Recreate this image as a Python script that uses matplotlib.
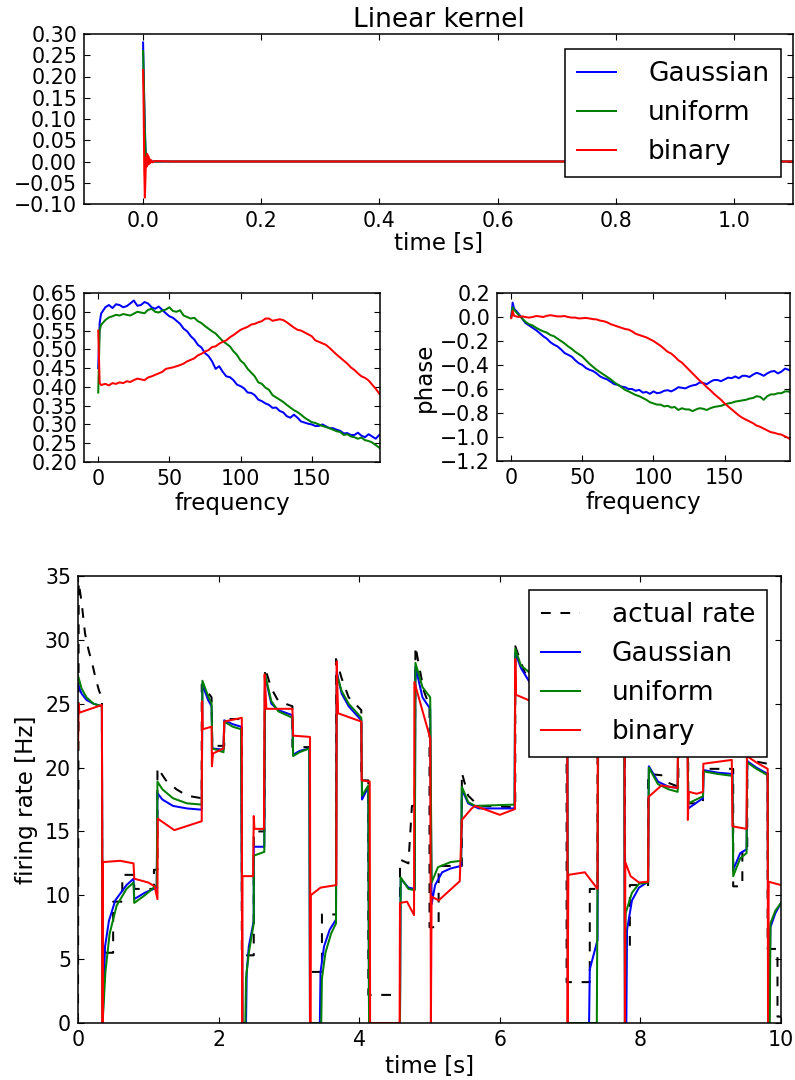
import matplotlib
matplotlib.use('Agg')
import matplotlib.pyplot as plt
import numpy as np

# ---- kernel (top panel) ----
kernel_t = [0.0, 0.001, 0.002, 0.003, 0.004, 0.005, 0.006, 0.007, 0.008, 0.009,
            0.010, 0.011, 0.012, 0.014, 0.016, 0.020, 0.050, 1.10]
kernel_gauss = [0.28, 0.21, 0.14, 0.08, 0.035, 0.005, -0.005, 0.004, 0.0, 0.002,
                -0.002, 0.001, 0.0, 0.0, 0.0, 0.0, 0.0, 0.0]
kernel_unif = [0.26, 0.20, 0.13, 0.07, 0.03, 0.01, -0.01, 0.006, -0.004, 0.003,
               -0.002, 0.002, 0.0, 0.0, 0.0, 0.0, 0.0, 0.0]
kernel_bin = [0.215, 0.12, -0.02, -0.085, -0.04, 0.01, -0.012, 0.018, -0.008, 0.012,
              -0.006, 0.006, -0.004, 0.003, -0.002, 0.001, 0.0, 0.0]

# ---- transfer function (middle panels) ----
freq = [0, 1, 2] + [5 + 2.5 * i for i in range(78)]
amp_gauss = [0.45, 0.57, 0.595,
             .612, .618, .610, .620, .618, .612, .615, .622, .630, .616, .618, .626, .622,
             .612, .608, .614, .605, .596, .588, .584, .576, .568, .555, .548, .535, .526,
             .512, .505, .490, .482, .468, .448, .455, .440, .428, .426, .418, .406, .402,
             .396, .385, .384, .378, .366, .362, .356, .352, .344, .345, .336, .332, .322,
             .318, .326, .318, .308, .305, .302, .300, .296, .296, .300, .295, .290, .290,
             .286, .283, .276, .277, .272, .272, .278, .270, .266, .274, .268, .262, .272]
amp_unif = [0.385, 0.55, 0.565,
            .578, .585, .588, .592, .590, .594, .592, .590, .595, .600, .598, .596, .605,
            .608, .600, .598, .603, .606, .612, .602, .600, .604, .590, .586, .582, .584,
            .575, .570, .562, .555, .548, .542, .532, .522, .515, .508, .495, .485, .470,
            .462, .448, .438, .428, .412, .408, .398, .392, .378, .372, .366, .360, .352,
            .345, .338, .333, .326, .318, .312, .306, .304, .300, .296, .293, .290, .286,
            .282, .280, .272, .274, .268, .266, .262, .265, .258, .256, .252, .245, .238]
amp_bin = [0.55, 0.41, 0.405,
           .408, .404, .410, .408, .412, .410, .415, .413, .418, .422, .420, .418, .425,
           .428, .432, .436, .440, .448, .450, .452, .455, .458, .462, .468, .472, .476,
           .484, .488, .494, .498, .506, .508, .515, .520, .524, .532, .538, .545, .552,
           .556, .560, .566, .568, .572, .575, .582, .582, .576, .578, .580, .578, .572,
           .565, .558, .552, .550, .545, .540, .535, .524, .520, .516, .512, .504, .495,
           .486, .478, .470, .462, .452, .445, .436, .428, .424, .417, .406, .395, .382]
phase_gauss = [0.0, 0.12, 0.07,
               .03, -.01, -.05, -.07, -.09, -.11, -.134, -.16, -.18, -.21, -.23, -.245,
               -.27, -.30, -.315, -.33, -.36, -.385, -.40, -.425, -.44, -.45, -.47, -.495,
               -.51, -.52, -.54, -.56, -.565, -.58, -.585, -.60, -.60, -.615, -.607, -.63,
               -.625, -.64, -.62, -.635, -.63, -.615, -.61, -.62, -.605, -.585, -.59,
               -.595, -.58, -.57, -.565, -.545, -.55, -.56, -.54, -.525, -.525, -.535,
               -.52, -.505, -.51, -.495, -.51, -.49, -.49, -.50, -.48, -.465, -.475, -.49,
               -.47, -.455, -.45, -.47, -.455, -.43, -.44, -.455]
phase_unif = [0.0, 0.08, 0.06,
              .02, -.01, -.04, -.06, -.07, -.09, -.106, -.12, -.13, -.15, -.16, -.18,
              -.20, -.22, -.245, -.265, -.29, -.31, -.33, -.36, -.39, -.415, -.44, -.46,
              -.48, -.50, -.52, -.545, -.565, -.585, -.607, -.62, -.635, -.65, -.66,
              -.675, -.69, -.71, -.72, -.73, -.73, -.745, -.74, -.755, -.75, -.775,
              -.76, -.77, -.77, -.785, -.77, -.76, -.765, -.775, -.76, -.75, -.745,
              -.74, -.73, -.72, -.715, -.705, -.70, -.695, -.69, -.68, -.675, -.66,
              -.665, -.69, -.66, -.645, -.645, -.635, -.635, -.62, -.62, -.64]
phase_bin = [-0.01, 0.05, 0.01,
             0.0, .005, 0.0, -.005, 0.0, .008, .005, 0.0, .01, .015, .01, .005, .005,
             .008, 0.0, -.005, -.005, -.012, -.01, -.008, -.012, -.018, -.02, -.03,
             -.035, -.045, -.06, -.07, -.08, -.09, -.10, -.105, -.12, -.14, -.15, -.16,
             -.17, -.185, -.20, -.22, -.24, -.265, -.29, -.305, -.33, -.36, -.38, -.41,
             -.44, -.47, -.50, -.53, -.555, -.585, -.61, -.64, -.665, -.69, -.72, -.745,
             -.77, -.795, -.82, -.84, -.855, -.87, -.885, -.905, -.915, -.93, -.945,
             -.96, -.965, -.975, -.98, -.995, -1.01, -1.03]

# ---- firing rate (bottom panel) ----
actual_t = [0.0, 0.01, 0.05, 0.10, 0.15, 0.20, 0.25, 0.30, 0.34, 0.345, 0.50, 0.50,
            0.63, 0.63, 0.80, 0.80, 1.08, 1.08, 1.13, 1.13, 1.25, 1.40, 1.55, 1.76,
            1.76, 1.90, 1.91, 2.08, 2.08, 2.33, 2.33, 2.50, 2.50, 2.65, 2.66, 2.75,
            2.85, 3.05, 3.05, 3.30, 3.30, 3.47, 3.47, 3.67, 3.67, 3.75, 3.85, 4.03,
            4.03, 4.13, 4.13, 4.58, 4.58, 4.70, 4.75, 4.79, 4.80, 4.85, 4.92, 5.00,
            5.00, 5.13, 5.13, 5.46, 5.46, 5.55, 5.70, 6.22, 6.22, 6.35, 6.95, 6.95,
            7.28, 7.28, 7.39, 7.39, 7.78, 7.78, 7.85, 7.85, 8.11, 8.11, 8.30, 8.40,
            8.54, 8.54, 8.68, 8.68, 8.89, 8.89, 9.32, 9.32, 9.45, 9.45, 9.52, 9.52,
            9.81, 9.81, 9.95, 9.95, 10.0]
actual_rate = [0.0, 34.5, 33.0, 30.5, 29.2, 28.2, 27.0, 26.0, 25.5, 5.5, 5.5, 9.5,
               9.5, 11.6, 11.6, 10.5, 10.5, 12.0, 12.0, 20.0, 19.0, 18.3, 17.8, 17.6,
               26.5, 25.5, 21.7, 21.7, 23.8, 23.8, 5.3, 5.3, 15.0, 15.0, 27.8, 26.2,
               25.2, 24.8, 21.6, 21.6, 4.0, 4.0, 8.5, 8.5, 28.5, 27.0, 25.5, 24.5,
               19.0, 19.0, 2.2, 2.2, 12.8, 12.5, 17.0, 17.0, 29.5, 28.0, 26.0, 24.8,
               7.5, 7.5, 12.3, 12.3, 19.6, 17.8, 17.0, 16.9, 29.5, 27.5, 24.0, 3.2,
               3.2, 10.5, 10.5, 24.0, 24.0, 6.0, 6.0, 10.8, 10.8, 19.5, 19.4, 18.8,
               18.5, 24.0, 24.0, 17.2, 17.2, 19.9, 19.9, 10.7, 10.7, 13.6, 13.6, 20.6,
               20.3, 5.8, 5.8, 0.5, 0.5]

gauss_t = [0.0, 0.05, 0.12, 0.22, 0.34, 0.35, 0.385, 0.44, 0.53, 0.69, 0.79, 0.80,
           0.95, 1.12, 1.13, 1.20, 1.35, 1.55, 1.76, 1.77, 1.85, 1.90, 1.91, 2.07,
           2.08, 2.20, 2.32, 2.34, 2.39, 2.40, 2.43, 2.50, 2.50, 2.65, 2.66, 2.75,
           2.85, 3.05, 3.06, 3.15, 3.29, 3.30, 3.44, 3.45, 3.50, 3.58, 3.67, 3.68,
           3.75, 3.85, 4.03, 4.04, 4.13, 4.14, 4.58, 4.59, 4.70, 4.79, 4.80, 4.90,
           5.01, 5.03, 5.08, 5.18, 5.30, 5.45, 5.46, 5.55, 5.70, 6.21, 6.22, 6.30,
           6.50, 6.96, 6.97, 7.27, 7.28, 7.39, 7.40, 7.77, 7.78, 7.80, 7.81, 7.88,
           7.98, 8.11, 8.12, 8.25, 8.40, 8.53, 8.54, 8.67, 8.68, 8.89, 8.90, 9.10,
           9.31, 9.32, 9.42, 9.51, 9.52, 9.65, 9.81, 9.82, 9.83, 9.85, 9.92, 10.0]
gauss_rate = [26.5, 25.8, 25.3, 25.0, 24.8, 0.0, 6.0, 8.0, 9.6, 10.8, 11.3, 9.7,
              10.2, 10.6, 18.0, 17.5, 17.0, 16.8, 16.7, 26.5, 25.3, 24.8, 21.5, 21.4,
              23.7, 23.4, 23.2, 0.0, 0.0, 4.0, 6.0, 8.0, 13.8, 13.8, 27.2, 25.0,
              24.5, 24.1, 21.0, 21.3, 21.5, 0.0, 0.0, 4.0, 6.0, 7.3, 8.1, 27.5,
              25.8, 24.8, 23.7, 17.5, 18.5, 0.0, 0.0, 11.3, 10.6, 10.5, 27.9, 25.5,
              24.6, 9.3, 10.8, 11.8, 12.1, 12.3, 18.3, 17.2, 16.8, 16.8, 29.0, 27.8,
              26.0, 25.0, 0.0, 0.0, 4.2, 6.5, 24.0, 24.0, 0.0, 0.0, 7.3, 9.6,
              10.6, 11.06, 20.1, 18.9, 18.5, 18.4, 24.0, 24.0, 16.8, 17.6, 19.8, 19.6,
              19.5, 12.0, 13.3, 13.6, 20.5, 20.0, 19.5, 0.0, 0.0, 7.5, 8.6, 9.4]

unif_t = [0.0, 0.05, 0.12, 0.22, 0.34, 0.35, 0.39, 0.45, 0.55, 0.69, 0.79, 0.80,
          0.95, 1.12, 1.13, 1.20, 1.35, 1.55, 1.76, 1.77, 1.85, 1.90, 1.91, 2.07,
          2.08, 2.20, 2.32, 2.34, 2.38, 2.39, 2.43, 2.50, 2.50, 2.65, 2.66, 2.75,
          2.85, 3.05, 3.06, 3.15, 3.29, 3.30, 3.46, 3.47, 3.52, 3.60, 3.67, 3.68,
          3.75, 3.85, 4.03, 4.04, 4.13, 4.14, 4.58, 4.59, 4.70, 4.79, 4.80, 4.90,
          5.01, 5.03, 5.12, 5.30, 5.45, 5.46, 5.55, 5.65, 6.21, 6.22, 6.30, 6.96,
          6.97, 7.38, 7.39, 7.40, 7.77, 7.78, 7.79, 7.88, 7.98, 8.11, 8.12, 8.25,
          8.40, 8.53, 8.54, 8.67, 8.68, 8.89, 8.90, 9.10, 9.31, 9.32, 9.42, 9.51,
          9.52, 9.65, 9.81, 9.82, 9.84, 9.85, 9.92, 10.0]
unif_rate = [27.2, 26.2, 25.5, 25.0, 24.8, 0.0, 4.0, 7.0, 9.2, 10.5, 11.0, 9.4,
             10.0, 10.8, 18.9, 18.3, 17.6, 17.2, 17.1, 26.8, 25.6, 25.0, 21.5, 21.2,
             23.6, 23.2, 23.0, 0.0, 0.0, 3.5, 5.5, 7.8, 13.1, 13.4, 27.3, 25.2,
             24.4, 23.9, 20.9, 21.2, 21.5, 0.0, 0.0, 3.5, 5.5, 7.0, 7.8, 27.3,
             26.0, 25.0, 23.9, 17.8, 18.6, 0.0, 0.0, 11.4, 10.5, 10.4, 28.2, 26.3,
             25.5, 11.0, 12.2, 12.6, 12.7, 18.5, 17.3, 17.0, 17.1, 29.3, 28.0, 25.0,
             0.0, 0.0, 11.0, 24.0, 24.0, 0.0, 8.6, 10.2, 10.9, 11.0, 20.0, 18.7,
             18.3, 18.1, 24.0, 24.0, 17.2, 17.75, 19.7, 19.5, 19.35, 11.5, 12.9, 13.3,
             20.4, 19.9, 19.4, 0.0, 0.0, 7.8, 8.8, 9.4]

bin_t = [0.0, 0.01, 0.02, 0.34, 0.35, 0.355, 0.60, 0.79, 0.80, 1.00, 1.09, 1.13,
         1.135, 1.37, 1.76, 1.765, 1.775, 1.90, 1.905, 1.92, 2.07, 2.08, 2.33, 2.335,
         2.34, 2.49, 2.50, 2.51, 2.645, 2.655, 2.68, 3.05, 3.06, 3.30, 3.305, 3.31,
         3.45, 3.675, 3.68, 3.70, 4.03, 4.035, 4.15, 4.155, 4.575, 4.58, 4.68, 4.78,
         4.785, 5.01, 5.02, 5.03, 5.13, 5.43, 5.46, 5.60, 5.65, 6.00, 6.215, 6.22,
         6.23, 6.96, 6.965, 6.975, 7.21, 7.39, 7.395, 7.775, 7.78, 7.785, 7.86, 7.98,
         8.11, 8.115, 8.30, 8.53, 8.535, 8.67, 8.675, 8.69, 8.80, 8.89, 8.895, 9.30,
         9.31, 9.51, 9.515, 9.65, 9.81, 9.815, 9.825, 10.0]
bin_rate = [21.5, 25.0, 24.3, 24.9, 0.0, 12.6, 12.7, 12.5, 11.3, 11.0, 10.7, 9.7,
            16.0, 15.1, 15.8, 25.2, 23.0, 23.2, 20.1, 21.1, 21.5, 23.6, 23.9, 0.0,
            11.5, 11.5, 16.2, 15.2, 15.2, 27.3, 24.6, 24.6, 22.5, 22.4, 0.0, 10.0,
            10.6, 10.8, 28.3, 24.25, 23.6, 19.0, 18.9, 0.0, 0.0, 9.4, 9.5, 8.45,
            26.7, 22.3, 0.0, 9.9, 9.6, 11.1, 15.9, 16.8, 17.0, 16.3, 16.75, 28.5,
            25.7, 24.0, 0.0, 11.6, 11.8, 10.5, 24.0, 24.0, 0.0, 12.6, 11.5, 11.0,
            11.06, 17.7, 18.6, 18.4, 24.0, 24.0, 15.9, 18.1, 17.95, 18.1, 20.3, 20.6,
            15.4, 15.2, 20.9, 20.4, 19.9, 0.0, 11.06, 10.8]

W, H = 795, 1080
FS = 14.8        # tick labels
FS_LABEL = 16.6  # axis labels
FS_BIG = 19.0    # title / legend

plt.rcParams.update({
    'font.family': 'DejaVu Sans',
    'font.size': FS,
    'axes.linewidth': 1.1,
    'xtick.direction': 'in',
    'ytick.direction': 'in',
    'xtick.top': True,
    'ytick.right': True,
    'xtick.major.size': 4.2,
    'ytick.major.size': 4.2,
    'xtick.major.pad': 5,
    'ytick.major.pad': 5,
    'axes.labelsize': FS_LABEL,
    'lines.linewidth': 1.45,
    'lines.scale_dashes': False,
    'axes.unicode_minus': True,
})


def rect(left, top, right, bottom):
    return [left / W, 1 - bottom / H, (right - left) / W, (bottom - top) / H]


def add_legend(ax, anchor):
    leg = ax.legend(loc='upper right', bbox_to_anchor=anchor,
                    bbox_transform=ax.figure.transFigure, borderaxespad=0,
                    fontsize=FS_BIG, fancybox=False, framealpha=1,
                    edgecolor='k', handlelength=1.5, handletextpad=1.2,
                    labelspacing=0.5, borderpad=0.45)
    leg.get_frame().set_linewidth(1.1)
    return leg


def minus(s):
    return s.replace('-', '\u2212')


def main():
    fig = plt.figure(figsize=(W / 100, H / 100), dpi=100)

    # top: kernel
    ax = fig.add_axes(rect(84, 34, 793, 204))
    ax.plot(kernel_t, kernel_gauss, color='b', label='Gaussian')
    ax.plot(kernel_t, kernel_unif, color='g', label='uniform')
    ax.plot(kernel_t, kernel_bin, color='r', label='binary')
    ax.set_xlim(-0.1, 1.1)
    ax.set_ylim(-0.1, 0.3)
    xt = [0.0, 0.2, 0.4, 0.6, 0.8, 1.0]
    ax.set_xticks(xt)
    ax.set_xticklabels(['%.1f' % v for v in xt])
    yt = [-0.10, -0.05, 0.0, 0.05, 0.10, 0.15, 0.20, 0.25, 0.30]
    ax.set_yticks(yt)
    ax.set_yticklabels([minus('%.2f' % v) for v in yt])
    ax.set_xlabel('time [s]', labelpad=1)
    ax.set_title('Linear kernel', fontsize=FS_BIG, pad=5)
    add_legend(ax, (781 / W, 1 - 49 / H))

    # middle left: amplitude
    ax = fig.add_axes(rect(84, 293, 380, 462))
    ax.plot(freq, amp_gauss, color='b')
    ax.plot(freq, amp_unif, color='g')
    ax.plot(freq, amp_bin, color='r')
    ax.set_xlim(-10, 198)
    ax.set_ylim(0.2, 0.65)
    ax.set_xticks([0, 50, 100, 150])
    yt = [0.20, 0.25, 0.30, 0.35, 0.40, 0.45, 0.50, 0.55, 0.60, 0.65]
    ax.set_yticks(yt)
    ax.set_yticklabels(['%.2f' % v for v in yt])
    ax.set_xlabel('frequency', labelpad=2)

    # middle right: phase
    ax = fig.add_axes(rect(497, 293, 790, 461))
    ax.plot(freq, phase_gauss, color='b')
    ax.plot(freq, phase_unif, color='g')
    ax.plot(freq, phase_bin, color='r')
    ax.set_xlim(-10, 196)
    ax.set_ylim(-1.2, 0.2)
    ax.set_xticks([0, 50, 100, 150])
    yt = [-1.2, -1.0, -0.8, -0.6, -0.4, -0.2, 0.0, 0.2]
    ax.set_yticks(yt)
    ax.set_yticklabels([minus('%.1f' % v) for v in yt])
    ax.set_xlabel('frequency', labelpad=2)
    ax.set_ylabel('phase', labelpad=3)

    # bottom: firing rate
    ax = fig.add_axes(rect(78, 576, 781, 1023))
    ax.plot(actual_t, actual_rate, color='k', dashes=(7, 7), label='actual rate')
    ax.plot(gauss_t, gauss_rate, color='b', label='Gaussian')
    ax.plot(unif_t, unif_rate, color='g', label='uniform')
    ax.plot(bin_t, bin_rate, color='r', label='binary')
    ax.set_xlim(0, 10)
    ax.set_ylim(0, 35)
    ax.set_xticks([0, 2, 4, 6, 8, 10])
    ax.set_yticks([0, 5, 10, 15, 20, 25, 30, 35])
    ax.set_xlabel('time [s]', labelpad=4)
    ax.set_ylabel('firing rate [Hz]', labelpad=5)
    add_legend(ax, (767 / W, 1 - 590 / H))

    fig.savefig('out.png', dpi=100)


if __name__ == "__main__":
    main()
